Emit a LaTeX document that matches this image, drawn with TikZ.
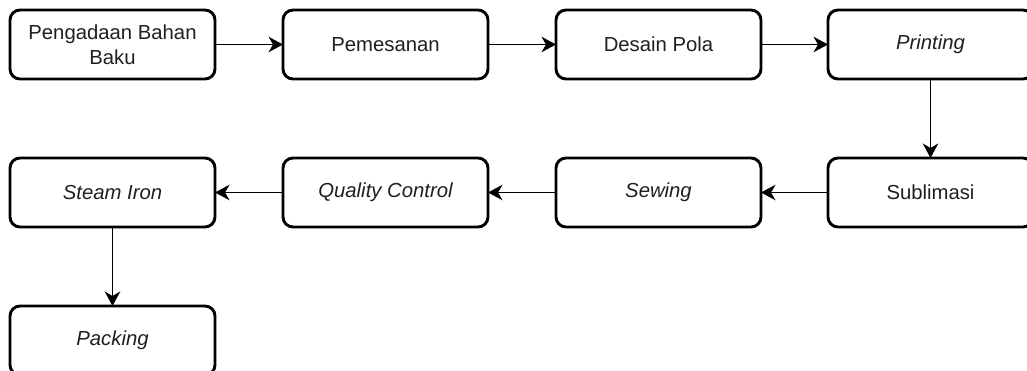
\documentclass[tikz,border=0pt]{standalone}
\usepackage{fontspec}
\setmainfont{Liberation Sans}
\usetikzlibrary{arrows.meta}

\tikzset{
  stagebox/.style={draw=black, line width=2.9pt, rounded corners=10pt,
    minimum width=205pt, minimum height=69pt, inner sep=0pt, outer sep=0pt,
    align=center, font=\fontsize{20.3}{24.5}\selectfont, text=black!88},
  flow/.style={line width=1.5pt, draw=black,
    -{Stealth[length=14.5pt,width=15.5pt,inset=4.5pt]}}
}

\begin{document}
\begin{tikzpicture}[x=1pt,y=-1pt]
  \useasboundingbox (0,0) rectangle (1027,371);
  \clip (0,0) rectangle (1027,371);

  % first row, left to right
  \node[stagebox] (bahan)  at (112.5,44.5) {Pengadaan Bahan\\Baku};
  \node[stagebox] (pesan)  at (385.5,44.5) {Pemesanan};
  \node[stagebox] (desain) at (658.5,44.5) {Desain Pola};
  \node[stagebox] (print)  at (930.5,44.5) {\itshape Printing};

  % second row, right to left
  \node[stagebox] (subli)  at (930.5,192.5) {Sublimasi};
  \node[stagebox] (sew)    at (658.5,192.5) {\itshape Sewing};
  \node[stagebox] (qc)     at (385.5,192.5) {\itshape Quality Control};
  \node[stagebox] (steam)  at (112.5,192.5) {\itshape Steam Iron};

  % last step
  \node[stagebox] (pack)   at (112.5,340.5) {\itshape Packing};

  \draw[flow] (bahan.east)  -- (pesan.west);
  \draw[flow] (pesan.east)  -- (desain.west);
  \draw[flow] (desain.east) -- (print.west);
  \draw[flow] (print.south) -- (subli.north);
  \draw[flow] (subli.west)  -- (sew.east);
  \draw[flow] (sew.west)    -- (qc.east);
  \draw[flow] (qc.west)     -- (steam.east);
  \draw[flow] (steam.south) -- (pack.north);
\end{tikzpicture}
\end{document}
